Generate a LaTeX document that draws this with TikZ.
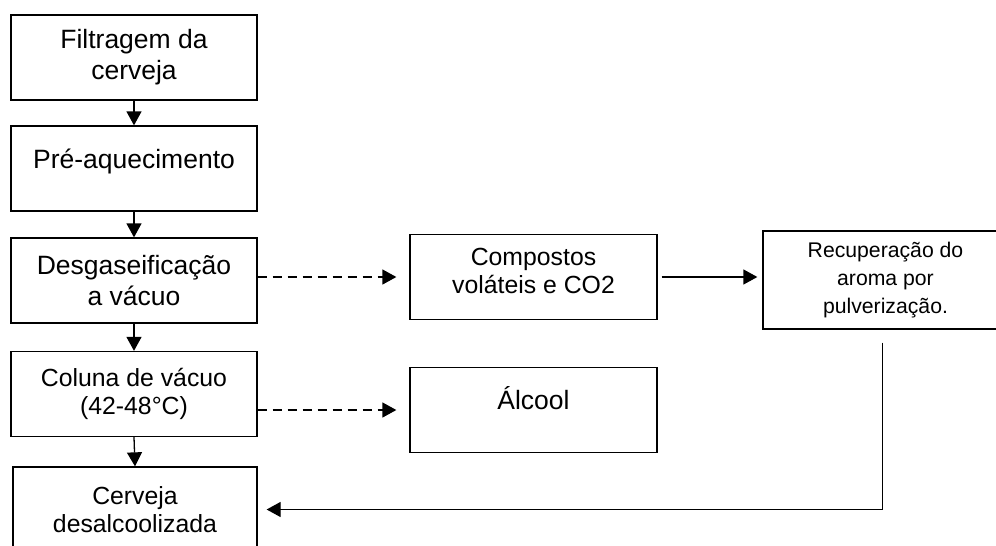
\documentclass[tikz,border=0pt]{standalone}
\usepackage{fontspec}
\setmainfont{Liberation Sans}
\usetikzlibrary{positioning, arrows.meta}

\begin{document}
\begin{tikzpicture}[
    x=1pt, y=1pt,
    >={Triangle[length=14pt, width=15pt]},
    stage/.style={rectangle, draw, line width=1.3pt, minimum width=246pt, minimum height=85pt, inner sep=0pt, align=center, font=\fontsize{26.5}{31}\selectfont},
    stagesmall/.style={stage, font=\fontsize{24.8}{28}\selectfont},
    recbox/.style={stage, minimum width=245pt, minimum height=98pt, font=\fontsize{21.2}{28}\selectfont},
    flow/.style={->, line width=1.3pt},
    side/.style={->, line width=1.4pt, dash pattern=on 9pt off 6pt},
]

\useasboundingbox (0,0) rectangle (996,-546);

% Main process column
\node[stage] (filtr) at (134, -57.5) {Filtragem da\\cerveja};
\node[stage] (preaq) at (134, -168.5) {Pré-aquecimento\\[-12pt]~};
\node[stage] (desg) at (134, -280.5) {Desgaseificação\\a vácuo};
\node[stagesmall] (coluna) at (134, -394) {Coluna de vácuo\\(42-48°C)};
\node[stagesmall, minimum width=244pt] (cerv) at (135, -509.5) {Cerveja\\desalcoolizada};

\draw[flow] (filtr.south) -- (preaq.north);
\draw[flow] (preaq.south) -- (desg.north);
\draw[flow] (desg.south) -- (coluna.north);
\draw[flow] (coluna.south) -- (cerv.north);

% Removed streams
\node[stagesmall, minimum width=247pt] (comp) at (533.5, -277) {Compostos\\voláteis e CO2\\[-16pt]~};
\node[stage, minimum width=247pt] (alc) at (533.5, -410) {Álcool\\[-8pt]~};

\draw[side, shorten >=13pt] (desg.east |- comp.west) -- (comp.west);
\draw[side, shorten >=13pt] (coluna.east |- alc.west) -- (alc.west);

% Aroma recovery
\node[recbox] (recup) at (885.5, -280) {Recuperação do\\aroma por\\pulverização.};

\draw[flow, shorten <=4pt, shorten >=5pt] (comp.east) -- (comp.east -| recup.west);
\draw[flow] ([xshift=-3pt, yshift=-13pt]recup.south) |- ([xshift=9pt]cerv.east);

\end{tikzpicture}
\end{document}
